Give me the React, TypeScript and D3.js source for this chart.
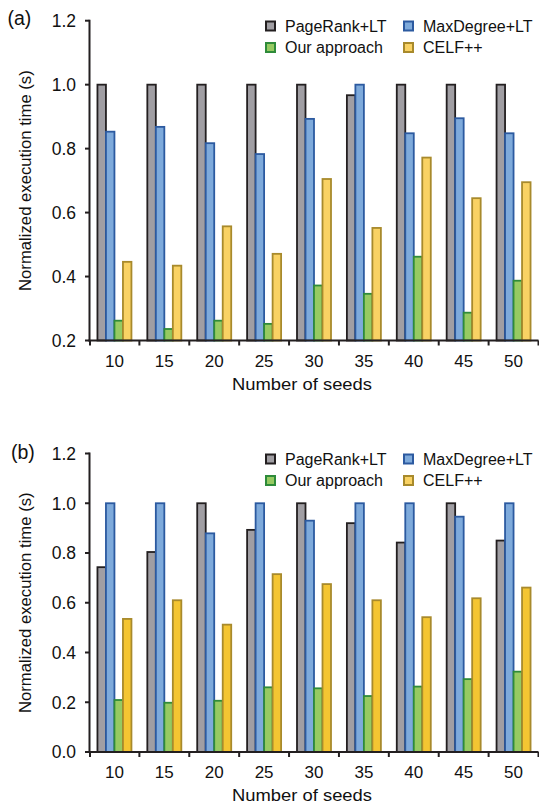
import React from "react";
import * as d3 from "d3";

// Seed counts on the x axis
const seeds = ["10", "15", "20", "25", "30", "35", "40", "45", "50"];
const seriesNames = ["PageRank+LT", "MaxDegree+LT", "Our approach", "CELF++"];

// Panel (a) normalized execution times
const aPageRank = [1.0, 1.0, 1.0, 1.0, 1.0, 0.967, 1.0, 1.0, 1.0];
const aMaxDegree = [0.853, 0.868, 0.817, 0.783, 0.893, 1.0, 0.848, 0.895, 0.848];
const aOurs = [0.262, 0.236, 0.262, 0.252, 0.372, 0.346, 0.462, 0.287, 0.387];
const aCelf = [0.446, 0.434, 0.557, 0.471, 0.705, 0.552, 0.772, 0.645, 0.695];

// Panel (b) normalized execution times
const bPageRank = [0.743, 0.804, 1.0, 0.893, 1.0, 0.92, 0.842, 1.0, 0.85];
const bMaxDegree = [1.0, 1.0, 0.879, 1.0, 0.93, 1.0, 1.0, 0.946, 1.0];
const bOurs = [0.209, 0.198, 0.206, 0.26, 0.256, 0.225, 0.263, 0.293, 0.323];
const bCelf = [0.535, 0.61, 0.512, 0.715, 0.675, 0.61, 0.542, 0.618, 0.661];

const aTicks = [0.2, 0.4, 0.6, 0.8, 1.0, 1.2];
const bTicks = [0.0, 0.2, 0.4, 0.6, 0.8, 1.0, 1.2];

const FONT = "'Liberation Sans', Arial, Helvetica, sans-serif";
const AXIS = "#231f20";
const INK = "#111";

const fills = ["#a09ea3", "#7eaadb", "#96ca62", "#f9d264"];
const strokes = ["#231f20", "#2c5aa0", "#2e8b3a", "#a88a2c"];

type PanelProps = {
  label: string;
  labelX: number;
  labelY: number;
  series: number[][];
  ticks: number[];
  yMin: number;
  top: number;
  bottom: number;
  celfFill: string;
  legendY: number;
};

function Panel({ label, labelX, labelY, series, ticks, yMin, top, bottom, celfFill, legendY }: PanelProps) {
  const left = 89.5;
  const right = 538.5;
  const x = d3.scaleBand<string>().domain(seeds).range([left, right]).paddingInner(0).paddingOuter(0);
  const y = d3.scaleLinear().domain([yMin, 1.2]).range([bottom, top]);
  const fmt = d3.format(".1f");
  const bw = 8.5;
  const groupOffset = (x.bandwidth() - bw * 4) / 2;
  const seriesFill = [fills[0], fills[1], fills[2], celfFill];

  const legendItems = [
    { name: seriesNames[0], col: 0, row: 0, fill: fills[0], stroke: strokes[0] },
    { name: seriesNames[1], col: 1, row: 0, fill: fills[1], stroke: strokes[1] },
    { name: seriesNames[2], col: 0, row: 1, fill: fills[2], stroke: strokes[2] },
    { name: seriesNames[3], col: 1, row: 1, fill: fills[3], stroke: strokes[3] },
  ];

  return (
    <g>
      <text x={labelX} y={labelY} fontSize={19.5} fontFamily={FONT} fill={INK}>{label}</text>

      {/* bars */}
      {seeds.map((s, i) => (
        <g key={s}>
          {series.map((vals, k) => {
            const x0 = (x(s) as number) + groupOffset + k * bw;
            const yt = y(vals[i]);
            return (
              <rect
                key={k}
                x={x0}
                y={yt}
                width={bw}
                height={bottom - yt}
                fill={seriesFill[k]}
                stroke={strokes[k]}
                strokeWidth={1.8}
              />
            );
          })}
        </g>
      ))}

      {/* y axis */}
      <line x1={left} x2={left} y1={top - 1} y2={bottom + 1} stroke={AXIS} strokeWidth={2} />
      {ticks.map((t) => (
        <g key={t}>
          <line x1={left - 4.5} x2={left} y1={y(t)} y2={y(t)} stroke={AXIS} strokeWidth={2} />
          <text
            x={left - 13.5}
            y={y(t)}
            dy="0.36em"
            textAnchor="end"
            fontSize={17.5}
            fontFamily={FONT}
            fill={INK}
          >
            {fmt(t)}
          </text>
        </g>
      ))}

      {/* x axis */}
      <line x1={left - 1} x2={right} y1={bottom} y2={bottom} stroke={AXIS} strokeWidth={2} />
      {seeds.map((s, i) => (
        <g key={s}>
          <line
            x1={(x(s) as number) + (i === 0 ? 0.5 : 0)}
            x2={(x(s) as number) + (i === 0 ? 0.5 : 0)}
            y1={bottom}
            y2={bottom + 5}
            stroke={AXIS}
            strokeWidth={2}
          />
          <text
            x={(x(s) as number) + x.bandwidth() / 2}
            y={bottom + 26}
            textAnchor="middle"
            fontSize={17}
            fontFamily={FONT}
            fill={INK}
          >
            {s}
          </text>
        </g>
      ))}
      <line x1={right} x2={right} y1={bottom} y2={bottom + 5} stroke={AXIS} strokeWidth={2} />

      <text
        x={302}
        y={bottom + 49}
        textAnchor="middle"
        fontSize={17}
        fontFamily={FONT}
        fill={INK}
        textLength={140}
        lengthAdjust="spacingAndGlyphs"
      >
        Number of seeds
      </text>
      <text
        transform={`translate(30.5, ${(top + bottom) / 2}) rotate(-90)`}
        textAnchor="middle"
        fontSize={16.7}
        fontFamily={FONT}
        fill={INK}
      >
        Normalized execution time (s)
      </text>

      {/* legend */}
      {legendItems.map((it) => {
        const mx = it.col === 0 ? 266 : 404;
        const my = legendY + it.row * 21.5;
        return (
          <g key={it.name}>
            <rect x={mx} y={my - 4.5} width={9} height={9} fill={it.fill} stroke={it.stroke} strokeWidth={2} />
            <text x={mx + 19} y={my} dy="0.35em" fontSize={16} fontFamily={FONT} fill={INK}>
              {it.name}
            </text>
          </g>
        );
      })}
    </g>
  );
}

export default function App() {
  return (
    <svg
      width={539}
      height={807}
      viewBox="0 0 539 807"
      style={{ position: "absolute", left: 0, top: 0, display: "block", background: "#fff" }}
    >
      <rect x={0} y={0} width={539} height={807} fill="#fff" />
      <Panel
        label="(a)"
        labelX={7.5}
        labelY={24.5}
        series={[aPageRank, aMaxDegree, aOurs, aCelf]}
        ticks={aTicks}
        yMin={0.2}
        top={20.7}
        bottom={340.5}
        celfFill="#f9d264"
        legendY={26}
      />
      <Panel
        label="(b)"
        labelX={11}
        labelY={459}
        series={[bPageRank, bMaxDegree, bOurs, bCelf]}
        ticks={bTicks}
        yMin={0}
        top={453.5}
        bottom={752}
        celfFill="#f4c532"
        legendY={459}
      />
    </svg>
  );
}
